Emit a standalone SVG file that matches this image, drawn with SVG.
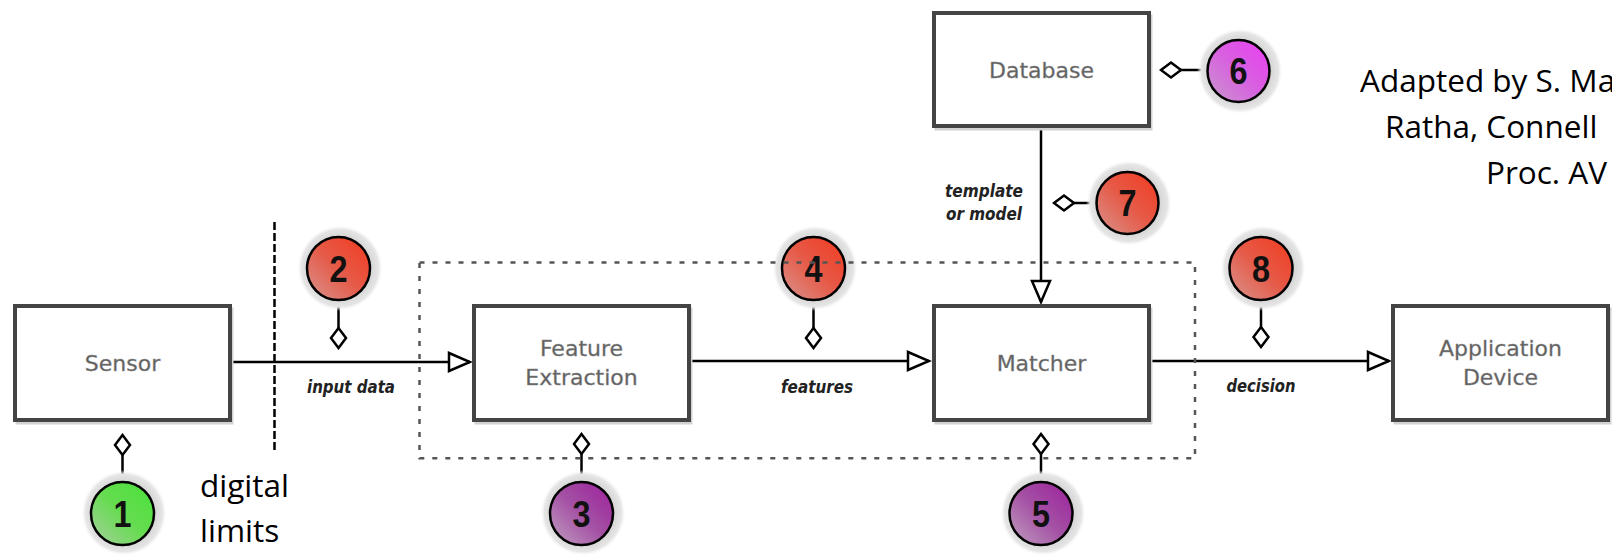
<svg xmlns="http://www.w3.org/2000/svg" width="1612" height="557" viewBox="0 0 1612 557">
<defs>
<style>
.box{fill:#fff;stroke:#444;stroke-width:4}
.shadow{fill:none;stroke:#d2d2d2;stroke-width:3}
.lbl{font-family:"DejaVu Sans",sans-serif;font-size:22px;fill:#5e5e5e;stroke:#8a8a8a;stroke-width:0.4;text-anchor:middle}
.edge{stroke:#000;stroke-width:2.5;fill:none;marker-end:url(#arr)}
.elbl{font-family:"DejaVu Sans",sans-serif;font-size:17.5px;font-weight:bold;font-style:italic;fill:#222;text-anchor:middle}
.stem{stroke:#000;stroke-width:2.5;fill:none;marker-start:url(#dia)}
.badge{stroke:#000;stroke-width:2.5}
.num{font-family:"Liberation Sans",sans-serif;font-size:36px;font-weight:bold;fill:#111;text-anchor:middle}
.halo{fill:url(#haloG)}
.note{font-family:"Open Sans",sans-serif;font-size:31.5px;fill:#000}
</style>
<marker id="arr" markerUnits="userSpaceOnUse" markerWidth="26" markerHeight="24" viewBox="-2 -3 26 24" refX="21" refY="9" orient="auto"><path d="M0,0 L21,9 L0,18 Z" fill="#fff" stroke="#000" stroke-width="2.5"/></marker>
<marker id="dia" markerUnits="userSpaceOnUse" markerWidth="26" markerHeight="21" viewBox="-2 -3 26 21" refX="0" refY="7.5" orient="auto"><path d="M0,7.5 L10,0 L20,7.5 L10,15 Z" fill="#fff" stroke="#000" stroke-width="2.5"/></marker>
<radialGradient id="haloG"><stop offset="0.72" stop-color="#d6d6d6"/><stop offset="0.9" stop-color="#e6e6e6"/><stop offset="1" stop-color="#fff" stop-opacity="0"/></radialGradient>
<linearGradient id="gGreen" x1="0" y1="1" x2="1" y2="0"><stop offset="0" stop-color="#a8cfa0"/><stop offset="0.5" stop-color="#66dc50"/><stop offset="1" stop-color="#48e23a"/></linearGradient>
<linearGradient id="gRed" x1="0" y1="1" x2="1" y2="0"><stop offset="0" stop-color="#d8948e"/><stop offset="0.5" stop-color="#e65a48"/><stop offset="1" stop-color="#f23a1e"/></linearGradient>
<linearGradient id="gPurple" x1="0" y1="1" x2="1" y2="0"><stop offset="0" stop-color="#c0a0c0"/><stop offset="0.5" stop-color="#a450a4"/><stop offset="1" stop-color="#9c1f9c"/></linearGradient>
<linearGradient id="gMagenta" x1="0" y1="1" x2="1" y2="0"><stop offset="0" stop-color="#c898cc"/><stop offset="0.5" stop-color="#d860e0"/><stop offset="1" stop-color="#ea3ef2"/></linearGradient>
</defs>
<rect width="1612" height="557" fill="#fff"/>

<g id="connectors">
<line class="edge" x1="231" y1="362" x2="470" y2="362"/>
<line class="edge" x1="690" y1="361" x2="929" y2="361"/>
<line class="edge" x1="1150" y1="361" x2="1389" y2="361"/>
<line class="edge" x1="1041" y1="127" x2="1041" y2="302"/>
<line class="stem" x1="122.5" y1="435" x2="122.5" y2="482"/>
<line class="stem" x1="338.5" y1="348" x2="338.5" y2="300"/>
<line class="stem" x1="581.5" y1="434" x2="581.5" y2="482"/>
<line class="stem" x1="813.5" y1="348" x2="813.5" y2="300"/>
<line class="stem" x1="1041" y1="434" x2="1041" y2="482"/>
<line class="stem" x1="1161" y1="70" x2="1207" y2="70"/>
<line class="stem" x1="1054" y1="203" x2="1097" y2="203"/>
<line class="stem" x1="1261" y1="347" x2="1261" y2="300"/>
<text class="elbl" x="351" y="393" textLength="88" lengthAdjust="spacingAndGlyphs">input data</text>
<text class="elbl" x="817" y="393" textLength="72" lengthAdjust="spacingAndGlyphs">features</text>
<text class="elbl" x="1261" y="392" textLength="69" lengthAdjust="spacingAndGlyphs">decision</text>
<text class="elbl" x="984" y="197" textLength="78" lengthAdjust="spacingAndGlyphs">template</text>
<text class="elbl" x="984" y="220" textLength="76" lengthAdjust="spacingAndGlyphs">or model</text>
</g>

<g id="sensor">
<rect class="shadow" x="17" y="309" width="215" height="114"/>
<rect class="box" x="15" y="306" width="215" height="114"/>
<text class="lbl" x="122.5" y="371">Sensor</text>
</g>
<g id="feature-extraction">
<rect class="shadow" x="476" y="309" width="215" height="114"/>
<rect class="box" x="474" y="306" width="215" height="114"/>
<text class="lbl" x="581.5" y="356">Feature</text>
<text class="lbl" x="581.5" y="385">Extraction</text>
</g>
<g id="matcher">
<rect class="shadow" x="936" y="309" width="215" height="114"/>
<rect class="box" x="934" y="306" width="215" height="114"/>
<text class="lbl" x="1041.5" y="371">Matcher</text>
</g>
<g id="database">
<rect class="shadow" x="936" y="16" width="215" height="113"/>
<rect class="box" x="934" y="13" width="215" height="113"/>
<text class="lbl" x="1041.5" y="77.5">Database</text>
</g>
<g id="application-device">
<rect class="shadow" x="1395" y="309" width="215" height="114"/>
<rect class="box" x="1393" y="306" width="215" height="114"/>
<text class="lbl" x="1500.5" y="356">Application</text>
<text class="lbl" x="1500.5" y="385">Device</text>
</g>

<g id="badge-1"><circle class="halo" cx="124" cy="513" r="43"/><circle class="badge" fill="url(#gGreen)" cx="122.5" cy="513.5" r="31.5"/><text class="num" x="122.5" y="526.5" textLength="18" lengthAdjust="spacingAndGlyphs">1</text></g>
<g id="badge-2"><circle class="halo" cx="340" cy="268" r="43"/><circle class="badge" fill="url(#gRed)" cx="338.5" cy="268.5" r="31.5"/><text class="num" x="338.5" y="281.5" textLength="18" lengthAdjust="spacingAndGlyphs">2</text></g>
<g id="badge-3"><circle class="halo" cx="583" cy="513" r="43"/><circle class="badge" fill="url(#gPurple)" cx="581.5" cy="513.5" r="31.5"/><text class="num" x="581.5" y="526.5" textLength="18" lengthAdjust="spacingAndGlyphs">3</text></g>
<g id="badge-4"><circle class="halo" cx="815" cy="268" r="43"/><circle class="badge" fill="url(#gRed)" cx="813.5" cy="268.5" r="31.5"/><text class="num" x="813.5" y="281.5" textLength="18" lengthAdjust="spacingAndGlyphs">4</text></g>
<g id="badge-5"><circle class="halo" cx="1043" cy="513" r="43"/><circle class="badge" fill="url(#gPurple)" cx="1041" cy="513.5" r="31.5"/><text class="num" x="1041" y="526.5" textLength="18" lengthAdjust="spacingAndGlyphs">5</text></g>
<g id="badge-6"><circle class="halo" cx="1240" cy="71" r="43"/><circle class="badge" fill="url(#gMagenta)" cx="1238.5" cy="71" r="31"/><text class="num" x="1238.5" y="84" textLength="18" lengthAdjust="spacingAndGlyphs">6</text></g>
<g id="badge-7"><circle class="halo" cx="1129" cy="203" r="43"/><circle class="badge" fill="url(#gRed)" cx="1127.5" cy="203" r="31"/><text class="num" x="1127.5" y="216" textLength="18" lengthAdjust="spacingAndGlyphs">7</text></g>
<g id="badge-8"><circle class="halo" cx="1263" cy="268" r="43"/><circle class="badge" fill="url(#gRed)" cx="1261" cy="268.5" r="31.5"/><text class="num" x="1261" y="281.5" textLength="18" lengthAdjust="spacingAndGlyphs">8</text></g>

<g id="boundaries">
<rect x="419.5" y="262.5" width="775.5" height="195.8" fill="none" stroke="#555" stroke-width="2.5" stroke-dasharray="5 8"/>
<line x1="274.5" y1="222" x2="274.5" y2="453" stroke="#000" stroke-width="2.5" stroke-dasharray="8 3"/>
</g>

<g id="notes">
<text class="note" x="200" y="497">digital</text>
<text class="note" x="200" y="542">limits</text>
<text class="note" x="1360" y="92">Adapted by S. Ma</text>
<text class="note" x="1385" y="138">Ratha, Connell</text>
<text class="note" x="1486" y="184">Proc. AV</text>
</g>
</svg>
